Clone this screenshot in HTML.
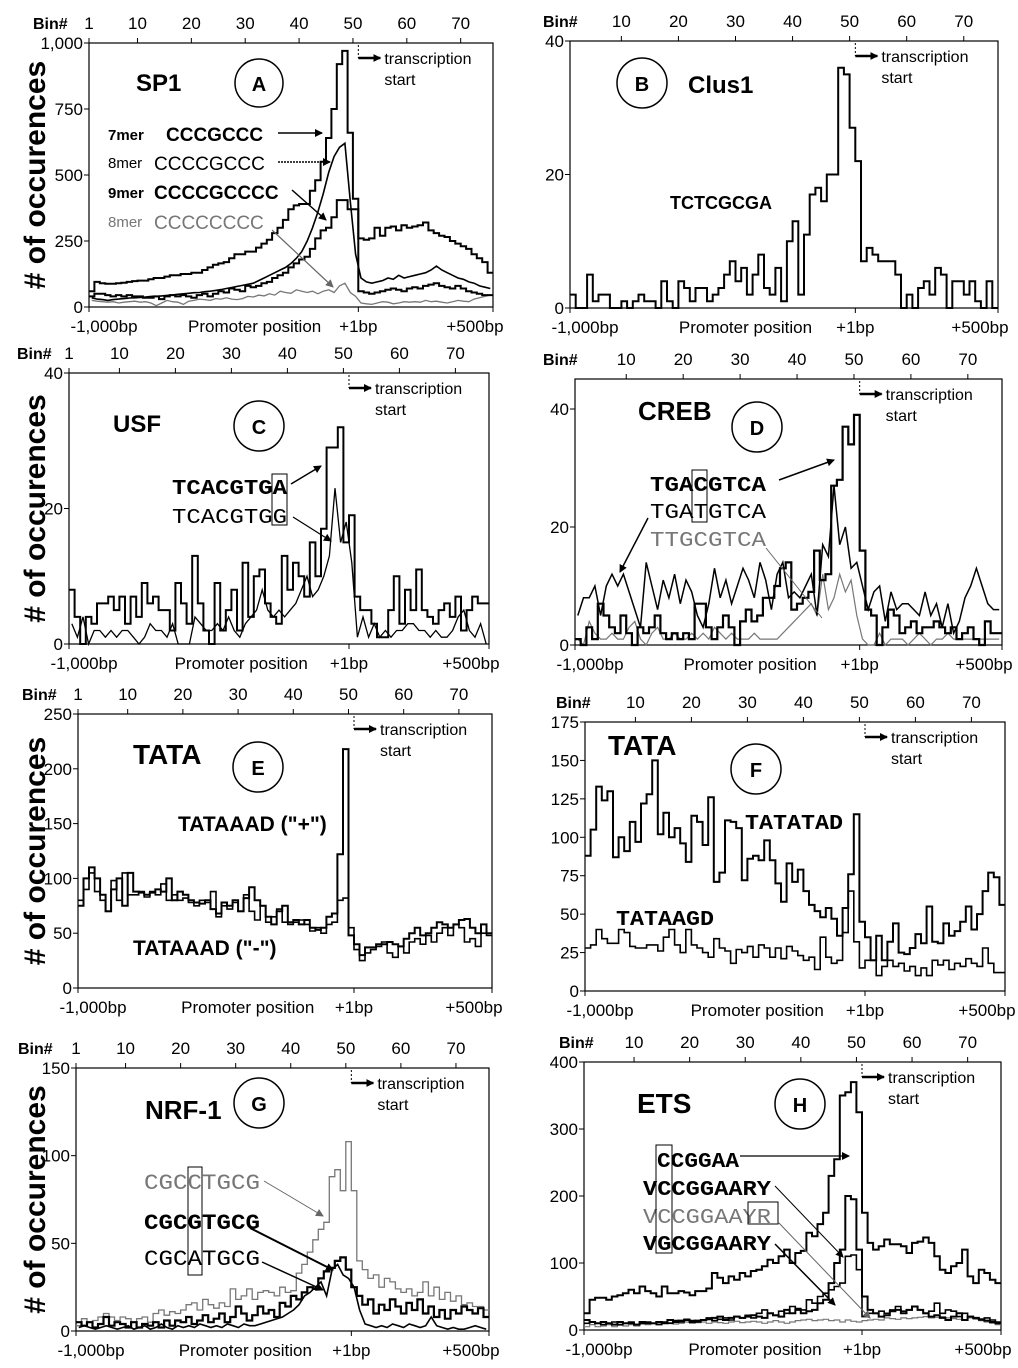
<!DOCTYPE html>
<html><head><meta charset="utf-8">
<style>
html,body{margin:0;padding:0;background:#fff;}
svg{display:block;font-family:"Liberation Sans",Arial,sans-serif;}
.mono{font-family:"Liberation Mono","Courier New",monospace;}
</style></head>
<body>
<svg id="fig" width="1018" height="1368" viewBox="0 0 1018 1368" xmlns="http://www.w3.org/2000/svg">
<defs>
<marker id="ah" markerWidth="8" markerHeight="8" refX="7" refY="4" orient="auto" markerUnits="userSpaceOnUse"><path d="M0,0 L8,4 L0,8 z" fill="#000"/></marker>
<marker id="ahg" markerWidth="8" markerHeight="8" refX="7" refY="4" orient="auto" markerUnits="userSpaceOnUse"><path d="M0,0 L8,4 L0,8 z" fill="#666"/></marker>
</defs>
<g id="plots"></g>
<g id="annot">
<!-- A -->
<text x="136" y="91" font-size="24" font-weight="bold">SP1</text>
<circle cx="259" cy="83" r="24" fill="none" stroke="#000" stroke-width="1.5"/>
<text x="259" y="91" font-size="20" font-weight="bold" text-anchor="middle">A</text>
<text x="108" y="140" font-size="15" font-weight="bold">7mer</text>
<text x="166" y="141" font-size="19" font-weight="bold">CCCGCCC</text>
<line x1="278" y1="133" x2="322" y2="133" stroke="#000" stroke-width="1.5" marker-end="url(#ah)"/>
<text x="108" y="168" font-size="15">8mer</text>
<text x="154" y="170" font-size="19">CCCCGCCC</text>
<line x1="278" y1="162" x2="330" y2="162" stroke="#000" stroke-width="1.5" stroke-dasharray="2,1" marker-end="url(#ah)"/>
<text x="108" y="198" font-size="15" font-weight="bold">9mer</text>
<text x="154" y="199" font-size="19" font-weight="bold">CCCCGCCCC</text>
<line x1="292" y1="190" x2="326" y2="220" stroke="#000" stroke-width="1.5" marker-end="url(#ah)"/>
<text x="108" y="227" font-size="15" fill="#777">8mer</text>
<text x="154" y="229" font-size="19" fill="#777">CCCCCCCC</text>
<line x1="272" y1="230" x2="333" y2="287" stroke="#666" stroke-width="1.2" marker-end="url(#ahg)"/>
<!-- B -->
<circle cx="642" cy="83" r="25" fill="none" stroke="#000" stroke-width="1.5"/>
<text x="642" y="91" font-size="20" font-weight="bold" text-anchor="middle">B</text>
<text x="688" y="93" font-size="24" font-weight="bold">Clus1</text>
<text x="670" y="209" font-size="18" font-weight="bold">TCTCGCGA</text>
<!-- C -->
<text x="113" y="432" font-size="24" font-weight="bold">USF</text>
<circle cx="259" cy="426" r="25" fill="none" stroke="#000" stroke-width="1.5"/>
<text x="259" y="434" font-size="20" font-weight="bold" text-anchor="middle">C</text>
<text x="172" y="494" font-size="21" font-weight="bold" class="mono" textLength="115" lengthAdjust="spacingAndGlyphs">TCACGTGA</text>
<text x="172" y="523" font-size="21" class="mono" textLength="115" lengthAdjust="spacingAndGlyphs">TCACGTGG</text>
<rect x="272" y="474" width="15" height="51" fill="none" stroke="#000" stroke-width="1"/>
<line x1="291" y1="484" x2="321" y2="466" stroke="#000" stroke-width="1.5" marker-end="url(#ah)"/>
<line x1="293" y1="517" x2="331" y2="541" stroke="#000" stroke-width="1.2" marker-end="url(#ah)"/>
<!-- D -->
<text x="638" y="420" font-size="26" font-weight="bold">CREB</text>
<circle cx="757" cy="427" r="25" fill="none" stroke="#000" stroke-width="1.5"/>
<text x="757" y="435" font-size="20" font-weight="bold" text-anchor="middle">D</text>
<text x="650" y="491" font-size="21" font-weight="bold" class="mono" textLength="116" lengthAdjust="spacingAndGlyphs">TGACGTCA</text>
<text x="650" y="518" font-size="21" class="mono" textLength="116" lengthAdjust="spacingAndGlyphs">TGATGTCA</text>
<text x="650" y="546" font-size="21" class="mono" fill="#777" textLength="116" lengthAdjust="spacingAndGlyphs">TTGCGTCA</text>
<rect x="692" y="470" width="15" height="52" fill="none" stroke="#000" stroke-width="1"/>
<line x1="779" y1="480" x2="834" y2="460" stroke="#000" stroke-width="1.5" marker-end="url(#ah)"/>
<line x1="648" y1="518" x2="620" y2="572" stroke="#000" stroke-width="1.5" marker-end="url(#ah)"/>
<line x1="766" y1="548" x2="822" y2="618" stroke="#666" stroke-width="1"/>
<!-- E -->
<text x="133" y="764" font-size="28" font-weight="bold">TATA</text>
<circle cx="258" cy="767" r="25" fill="none" stroke="#000" stroke-width="1.5"/>
<text x="258" y="775" font-size="20" font-weight="bold" text-anchor="middle">E</text>
<text x="178" y="831" font-size="21" font-weight="bold">TATAAAD ("+")</text>
<text x="133" y="955" font-size="21" font-weight="bold">TATAAAD ("-")</text>
<!-- F -->
<text x="608" y="755" font-size="28" font-weight="bold">TATA</text>
<circle cx="756" cy="769" r="25" fill="none" stroke="#000" stroke-width="1.5"/>
<text x="756" y="777" font-size="20" font-weight="bold" text-anchor="middle">F</text>
<text x="745" y="829" font-size="21" font-weight="bold" class="mono" textLength="98" lengthAdjust="spacingAndGlyphs">TATATAD</text>
<text x="616" y="925" font-size="21" font-weight="bold" class="mono" textLength="98" lengthAdjust="spacingAndGlyphs">TATAAGD</text>
<!-- G -->
<text x="145" y="1119" font-size="26" font-weight="bold">NRF-1</text>
<circle cx="259" cy="1103" r="25" fill="none" stroke="#000" stroke-width="1.5"/>
<text x="259" y="1111" font-size="20" font-weight="bold" text-anchor="middle">G</text>
<text x="144" y="1189" font-size="22" class="mono" fill="#777" textLength="116" lengthAdjust="spacingAndGlyphs">CGCCTGCG</text>
<text x="144" y="1229" font-size="22" font-weight="bold" class="mono" textLength="116" lengthAdjust="spacingAndGlyphs">CGCGTGCG</text>
<text x="144" y="1265" font-size="22" class="mono" textLength="116" lengthAdjust="spacingAndGlyphs">CGCATGCG</text>
<rect x="188" y="1167" width="14" height="108" fill="none" stroke="#000" stroke-width="1"/>
<line x1="264" y1="1181" x2="323" y2="1216" stroke="#666" stroke-width="1" marker-end="url(#ahg)"/>
<line x1="250" y1="1228" x2="333" y2="1270" stroke="#000" stroke-width="2" marker-end="url(#ah)"/>
<line x1="262" y1="1262" x2="323" y2="1290" stroke="#000" stroke-width="1.5" marker-end="url(#ah)"/>
<!-- H -->
<text x="637" y="1113" font-size="28" font-weight="bold">ETS</text>
<circle cx="800" cy="1104" r="25" fill="none" stroke="#000" stroke-width="1.5"/>
<text x="800" y="1112" font-size="20" font-weight="bold" text-anchor="middle">H</text>
<text x="657" y="1167" font-size="21" font-weight="bold" class="mono" textLength="82" lengthAdjust="spacingAndGlyphs">CCGGAA</text>
<text x="643" y="1195" font-size="21" font-weight="bold" class="mono" textLength="128" lengthAdjust="spacingAndGlyphs">VCCGGAARY</text>
<text x="643" y="1223" font-size="21" class="mono" fill="#777" textLength="128" lengthAdjust="spacingAndGlyphs">VCCGGAAYR</text>
<text x="643" y="1250" font-size="21" font-weight="bold" class="mono" textLength="128" lengthAdjust="spacingAndGlyphs">VGCGGAARY</text>
<rect x="656" y="1145" width="16" height="108" fill="none" stroke="#000" stroke-width="1"/>
<rect x="748" y="1202" width="30" height="22" fill="none" stroke="#000" stroke-width="1"/>
<line x1="740" y1="1156" x2="849" y2="1156" stroke="#000" stroke-width="1.2" marker-end="url(#ah)"/>
<line x1="775" y1="1186" x2="843" y2="1257" stroke="#000" stroke-width="1" marker-end="url(#ah)"/>
<line x1="778" y1="1222" x2="870" y2="1318" stroke="#666" stroke-width="1" marker-end="url(#ahg)"/>
<line x1="775" y1="1244" x2="835" y2="1305" stroke="#000" stroke-width="1.5" marker-end="url(#ah)"/>
</g>
</svg>
<script>
const NB = 75;
const binTicks = [1,10,20,30,40,50,60,70];

// Panel A (SP1)
const a7mer = [60,95,90,88,88,90,92,95,98,100, 100,105,110,110,115,120,120,125,125,130, 130,140,150,160,165,170,185,200,200,210, 210,225,240,255,280,300,330,370,385,390, 390,440,480,550,640,750,920,970,660,410, 260,255,260,300,270,300,305,290,310,300, 305,310,320,290,280,270,265,250,240,230, 220,200,185,170,130];
const a8mer = [35,30,28,25,28,30,32,34,35,36, 38,40,40,42,44,46,48,50,52,54, 55,58,60,63,66,70,74,78,82,86, 90,100,110,120,130,140,150,165,185,210, 250,300,360,430,510,570,605,620,400,200, 110,95,90,95,100,110,105,120,110,115, 120,125,130,140,155,140,130,120,110,105, 95,90,80,75,70];
const a9mer = [40,50,50,45,40,45,40,45,40,40, 35,35,40,30,40,45,40,45,40,35, 45,50,40,50,60,55,70,65,60,80, 75,80,90,95,110,120,130,150,165,180, 190,220,260,290,300,340,405,405,370,370, 60,55,50,55,60,65,70,65,60,70, 75,70,80,85,90,80,75,70,80,70, 60,55,50,45,45];
const a8merC = [25,22,20,18,20,15,18,20,22,18, 20,15,5,15,25,20,18,10,22,25, 30,28,25,32,30,35,30,28,32,40, 38,45,42,50,45,60,55,52,65,60, 55,60,50,60,65,55,80,90,55,40, 15,12,10,15,20,18,12,15,20,18, 20,18,25,20,22,18,15,20,25,22, 20,30,35,40,45];
const aTicks = [0,250,500,750,1000];
const aTickLabels = ["0","250","500","750","1,000"];

// Panel B (Clus1)
const bClus1 = [2,0,0,5,1,2,2,0,0,1, 0,1,2,1,1,0,4,1,0,4, 3,1,3,3,1,2,3,5,7,4, 6,2,5,8,3,2,6,1,10,13, 2,11,17,18,16,20,20,36,35,27, 22,7,9,8,7,7,7,5,0,2, 0,3,4,2,6,5,0,4,4,2, 4,1,0,4,0];
const bTicks = [0,20,40];
const bTickLabels = ["0","20","40"];

// Panel C (USF)
const cTCACGTGA = [8,4,0,4,3,6,6,7,5,7, 3,7,4,9,6,7,5,5,2,9, 6,3,13,6,2,0,9,2,5,8, 2,12,4,10,11,6,4,3,13,8, 12,10,7,15,10,17,29,29,32,15, 19,7,5,5,3,1,1,5,10,3, 8,5,11,5,4,3,5,6,4,7, 2,5,7,6,6];
const cTCACGTGG = [3,1,4,0,2,2,1,2,1,2, 2,1,0,1,3,2,2,1,3,0, 0,0,4,3,2,2,3,2,4,2, 1,3,4,5,8,5,4,5,4,5, 6,8,10,7,8,10,13,23,15,18, 12,1,4,1,3,1,2,1,2,2, 3,3,2,2,1,2,1,1,2,4, 5,2,1,3,0];
const cTicks = [0,20,40];
const cTickLabels = ["0","20","40"];

// Panel D (CREB)
const dTGACGTCA = [1,0,3,1,7,5,3,2,5,2, 0,3,2,3,5,2,1,2,1,2, 1,7,7,3,1,3,5,3,0,4, 6,4,5,8,8,10,13,14,6,7, 8,9,16,11,12,27,28,37,34,39, 16,6,5,0,3,6,5,2,3,4, 2,3,3,4,3,2,3,1,2,3, 1,0,4,2,2];
const dTGATGTCA = [5,8,8,10,5,10,12,10,12,9, 6,3,14,10,6,11,8,12,7,11, 9,5,3,7,13,8,11,7,10,13, 11,8,14,11,6,12,14,8,9,8, 10,12,5,17,15,27,17,20,13,14, 10,6,9,10,4,9,6,7,7,6, 5,9,5,7,3,7,2,4,8,10, 13,10,7,6,6];
const dTTGCGTCA = [1,0,4,2,1,1,2,1,1,3, 4,1,0,2,3,1,1,2,1,1, 2,1,2,1,3,2,1,2,1,1, 1,2,1,1,1,1,2,3,4,5, 6,7,5,12,6,8,12,9,11,5, 1,0,0,2,0,1,1,1,0,1, 2,1,0,1,1,2,1,1,1,1, 1,1,1,1,1];
const dTicks = [0,20,40];
const dTickLabels = ["0","20","40"];

// Panel E (TATA strands)
const ePlus = [75,100,110,100,85,70,90,100,75,105, 88,87,85,87,90,88,100,80,88,85, 80,78,77,80,72,68,78,75,80,70, 82,92,80,75,65,58,70,75,60,62, 58,62,55,53,55,65,68,122,218,48, 40,30,37,37,40,40,42,40,38,45, 50,55,48,50,55,60,58,55,58,62, 63,55,50,58,50];
const eMinus = [80,90,105,88,80,70,98,80,105,85, 85,88,83,88,85,95,80,85,80,82, 78,75,80,78,88,65,75,72,78,70, 85,70,62,75,60,65,72,60,58,60, 62,58,52,55,50,58,60,80,82,55, 35,25,32,35,38,42,32,28,38,32, 42,45,40,48,42,50,55,48,58,55, 42,45,38,50,48];
const eTicks = [0,50,100,150,200,250];
const eTickLabels = ["0","50","100","150","200","250"];

// Panel F (TATA variants)
const fTATATAD = [88,105,133,124,130,87,100,91,110,97, 122,128,150,102,116,100,106,96,84,114, 110,95,126,71,77,111,110,106,72,86, 88,85,98,85,70,58,83,71,79,65, 56,52,48,54,47,36,54,76,115,45, 35,20,36,20,32,44,25,24,28,37, 31,55,32,31,44,36,39,45,55,40, 50,65,77,74,56];
const fTATAAGD = [28,30,40,34,31,31,40,38,29,28, 28,30,30,26,35,40,30,25,40,30, 28,25,22,34,28,26,18,27,25,29, 22,30,28,22,28,21,29,26,23,20, 22,14,35,22,18,20,38,65,32,15, 20,20,10,16,20,16,18,13,16,10, 15,10,20,17,20,14,18,16,21,18, 16,28,18,12,12];
const fTicks = [0,25,50,75,100,125,150,175];
const fTickLabels = ["0","25","50","75","100","125","150","175"];

// Panel G (NRF-1)
const gCGCCTGCG = [3,7,5,6,8,10,8,6,8,7, 5,7,8,5,10,12,9,11,10,12, 15,16,12,18,15,13,16,14,24,18, 20,24,18,22,23,22,20,25,22,23, 33,38,45,52,58,62,88,92,80,108, 80,40,35,30,32,25,30,28,24,22, 24,20,22,28,20,25,18,22,17,20, 15,16,14,14,12];
const gCGCGTGCG = [5,3,5,2,4,8,3,5,4,2, 5,2,4,3,5,2,6,3,6,5, 8,4,6,9,5,7,10,5,8,14, 10,6,9,14,10,12,8,16,14,20, 18,22,25,24,30,34,36,40,42,35, 25,20,15,18,10,15,12,18,14,10, 16,12,18,10,14,8,12,7,12,10, 14,12,10,13,8];
const gCGCATGCG = [2,3,2,1,2,3,2,1,2,3, 1,2,3,1,2,4,2,1,3,2, 3,2,4,3,2,3,2,4,3,2, 4,3,3,4,5,6,7,8,10,12, 15,20,22,25,28,20,35,38,32,30, 25,12,4,3,2,3,2,4,3,2, 4,3,2,3,8,3,2,1,2,1, 1,2,3,2,1];
const gTicks = [0,50,100,150];
const gTickLabels = ["0","50","100","150"];

// Panel H (ETS)
const hCCGGAA = [25,45,48,48,45,50,52,55,60,55, 65,58,55,50,65,55,55,58,56,52, 58,58,62,85,78,70,80,75,85,80, 88,90,95,105,100,110,120,100,115,118, 145,140,158,175,230,255,350,355,370,325, 175,130,120,125,135,128,128,125,115,130, 132,138,130,110,90,85,95,100,120,80, 70,90,85,75,70];
const hVCCGGAARY = [15,12,10,12,10,8,12,10,10,8, 12,10,10,12,10,15,12,14,15,12, 14,15,16,18,20,15,18,20,18,20, 22,20,18,25,22,20,30,25,30,25, 28,30,40,45,70,100,120,200,195,120, 50,30,25,20,22,28,30,25,30,35, 30,25,20,22,18,15,20,25,15,20, 18,16,14,12,10];
const hVCCGGAAYR = [5,8,5,6,8,5,7,6,8,6, 9,8,10,9,10,11,9,10,12,10, 11,12,10,12,11,10,12,13,11,12, 13,12,10,12,14,12,10,12,14,15, 16,14,15,16,14,15,12,15,13,12, 14,15,16,15,18,17,16,18,17,18, 19,20,18,19,20,18,17,16,15,18, 16,14,12,10,8];
const hVGCGGAARY = [10,12,10,8,10,12,8,10,12,8, 10,12,10,8,12,10,14,12,16,14, 12,15,18,14,16,18,15,20,18,22, 18,25,30,25,22,28,25,35,32,30, 45,40,50,55,60,65,70,110,112,90, 20,25,25,28,25,30,35,28,30,35, 30,25,28,40,25,30,28,20,25,20, 18,15,18,15,12];
const hTicks = [0,100,200,300,400];
const hTickLabels = ["0","100","200","300","400"];

const NS = "http://www.w3.org/2000/svg";
const root = document.getElementById('plots');
function mk(tag, attrs, parent){
  const e = document.createElementNS(NS, tag);
  for (const k in attrs) e.setAttribute(k, attrs[k]);
  (parent||root).appendChild(e);
  return e;
}

function panel(p){
  const g = mk('g', {});
  
  
  const w = (p.x1 - p.x0) / NB;
  const xs = i => p.x0 + i * w;
  const ys = v => p.yb - (v / p.ymax) * (p.yb - p.yt);
  const fr = mk('rect', {x:p.x0, y:p.top, width:p.x1-p.x0, height:p.yb-p.top, fill:'none', stroke:'#000', 'stroke-width':1.2}, g);
  
  
  p.ticks.forEach((t, k) => {
    const y = ys(t);
    mk('line', {x1:p.x0-5, x2:p.x0, y1:y, y2:y, stroke:'#000', 'stroke-width':1}, g);
    const tx = mk('text', {x:p.x0-6, y:y+6, 'font-size':17, 'text-anchor':'end'}, g);
    tx.textContent = p.tickLabels[k];
    
    
  });
  const bl = mk('text', {x:p.binLabelX, y:p.top-14, 'font-size':16, 'font-weight':'bold'}, g);
  bl.textContent = 'Bin#';
  
  
  binTicks.forEach(b => {
    if (b === 1 && !p.showOne) return;
    const x = xs(b - 1);
    mk('line', {x1:x, x2:x, y1:p.top-5, y2:p.top, stroke:'#000', 'stroke-width':1}, g);
    const tx = mk('text', {x:x, y:p.top-14, 'font-size':17, 'text-anchor':'middle'}, g);
    tx.textContent = String(b);
    
    
  });
  const tss = xs(50);
  [p.x0, tss, p.x1].forEach(x => mk('line', {x1:x, x2:x, y1:p.yb, y2:p.yb+5, stroke:'#000', 'stroke-width':1}, g));
  const bots = [[p.x0+15, '-1,000bp'], [tss, '+1bp'], [p.x1-18, '+500bp'], [p.x0 + (p.x1-p.x0)*0.41, 'Promoter position']];
  bots.forEach(([x, s]) => {
    const tx = mk('text', {x:x, y:p.yb+25, 'font-size':17, 'text-anchor':'middle'}, g);
    tx.textContent = s;
    
    
  });
  mk('line', {x1:tss, x2:tss, y1:p.top+2, y2:p.top+15, stroke:'#000', 'stroke-width':1, 'stroke-dasharray':'2,2'}, g);
  mk('line', {x1:tss, x2:tss+22, y1:p.top+15, y2:p.top+15, stroke:'#000', 'stroke-width':2.5, 'marker-end':'url(#ah)'}, g);
  const t1 = mk('text', {x:tss+26, y:p.top+21, 'font-size':16}, g);
  t1.textContent = 'transcription';
  
  
  const t2 = mk('text', {x:tss+26, y:p.top+42, 'font-size':16}, g);
  t2.textContent = 'start';
  if (p.ytitle){
    const cy = (p.top + p.yb) / 2;
    const yt = mk('text', {x:0, y:0, 'font-size':30, 'font-weight':'bold', 'text-anchor':'middle', transform:'translate(45,'+cy+') rotate(-90)'}, g);
    yt.textContent = '# of occurences';
    
    
  }
  p.series.forEach(s => {
    let d = '';
    if (s.type === 'step'){
      s.data.forEach((v, i) => {
        const y = ys(v).toFixed(1);
        d += (i === 0 ? 'M' + xs(0).toFixed(1) + ',' + y : 'V' + y) + 'H' + xs(i+1).toFixed(1);
      });
    } else {
      s.data.forEach((v, i) => {
        d += (i === 0 ? 'M' : 'L') + xs(i+0.5).toFixed(1) + ',' + ys(v).toFixed(1);
      });
    }
    const path = mk('path', {d:d, fill:'none', stroke:s.color||'#000', 'stroke-width':s.w||2, 'stroke-linejoin':'miter'}, g);
    
    
  });
}

panel({id:'a', x0:89, x1:493, top:43, yt:43, yb:307, ymax:1000, ticks:aTicks, tickLabels:aTickLabels, binLabelX:33, showOne:true, ytitle:true,
  series:[{name:'8mer-cccccccc', data:a8merC, type:'line', color:'#777', w:1.3},
          {name:'9mer', data:a9mer, type:'step', w:2},
          {name:'8mer-ccccgccc', data:a8mer, type:'line', w:1.6},
          {name:'7mer', data:a7mer, type:'step', w:2}]});
panel({id:'b', x0:570, x1:998, top:41, yt:41, yb:308, ymax:40, ticks:bTicks, tickLabels:bTickLabels, binLabelX:543, showOne:false, ytitle:false,
  series:[{name:'tctcgcga', data:bClus1, type:'step', w:2}]});
panel({id:'c', x0:69, x1:489, top:373, yt:373, yb:644, ymax:40, ticks:cTicks, tickLabels:cTickLabels, binLabelX:17, showOne:true, ytitle:true,
  series:[{name:'tcacgtgg', data:cTCACGTGG, type:'line', w:1.3},
          {name:'tcacgtga', data:cTCACGTGA, type:'step', w:2}]});
panel({id:'d', x0:575, x1:1002, top:379, yt:409, yb:645, ymax:40, ticks:dTicks, tickLabels:dTickLabels, binLabelX:543, showOne:false, ytitle:false,
  series:[{name:'ttgcgtca', data:dTTGCGTCA, type:'line', color:'#777', w:1.2},
          {name:'tgatgtca', data:dTGATGTCA, type:'line', w:1.5},
          {name:'tgacgtca', data:dTGACGTCA, type:'step', w:2.2}]});
panel({id:'e', x0:78, x1:492, top:714, yt:714, yb:988, ymax:250, ticks:eTicks, tickLabels:eTickLabels, binLabelX:22, showOne:true, ytitle:true,
  series:[{name:'tataaad-minus', data:eMinus, type:'step', w:1.6},
          {name:'tataaad-plus', data:ePlus, type:'step', w:2}]});
panel({id:'f', x0:585, x1:1005, top:722, yt:722, yb:991, ymax:175, ticks:fTicks, tickLabels:fTickLabels, binLabelX:556, showOne:false, ytitle:false,
  series:[{name:'tataagd', data:fTATAAGD, type:'step', w:1.6},
          {name:'tatatad', data:fTATATAD, type:'step', w:2}]});
panel({id:'g', x0:76, x1:489, top:1068, yt:1068, yb:1331, ymax:150, ticks:gTicks, tickLabels:gTickLabels, binLabelX:18, showOne:true, ytitle:true,
  series:[{name:'cgcctgcg', data:gCGCCTGCG, type:'step', color:'#777', w:1.3},
          {name:'cgcatgcg', data:gCGCATGCG, type:'line', w:1.6},
          {name:'cgcgtgcg', data:gCGCGTGCG, type:'step', w:2.2}]});
panel({id:'h', x0:584, x1:1001, top:1062, yt:1062, yb:1330, ymax:400, ticks:hTicks, tickLabels:hTickLabels, binLabelX:559, showOne:false, ytitle:false,
  series:[{name:'vccggaayr', data:hVCCGGAAYR, type:'step', color:'#777', w:1.2},
          {name:'vgcggaary', data:hVGCGGAARY, type:'step', w:1.6},
          {name:'vccggaary', data:hVCCGGAARY, type:'step', w:2},
          {name:'ccggaa', data:hCCGGAA, type:'step', w:2}]});
</script>
</body></html>
